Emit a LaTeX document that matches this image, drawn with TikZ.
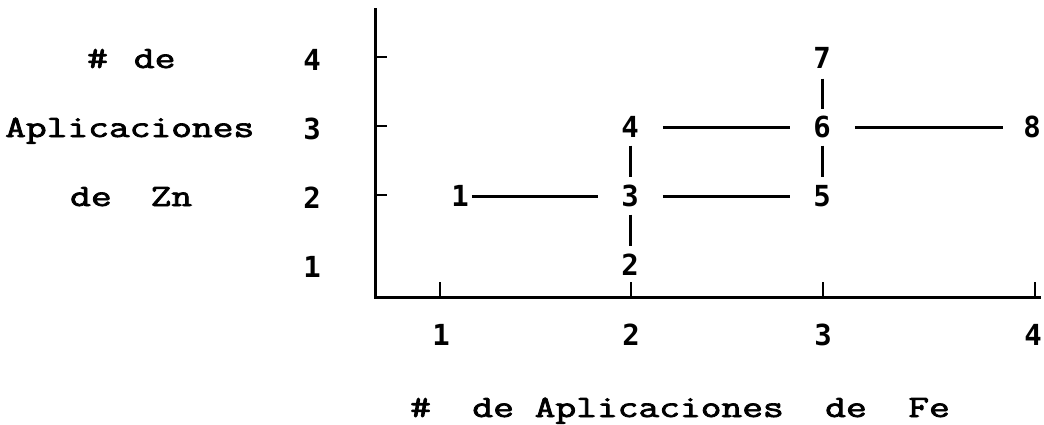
\documentclass[tikz,border=0pt]{standalone}
\usepackage{fontspec}
\usepackage{graphicx}
\newfontfamily\dig{DejaVu Sans Mono}
\newfontfamily\cmono{Latin Modern Mono}[FakeBold=2.2]
\newcommand{\wtxt}[1]{\scalebox{1.3}[1]{#1}}
\begin{document}
\begin{tikzpicture}[x=1pt,y=-1pt,
  lbl/.style={font=\cmono\fontsize{31}{36}\selectfont, inner sep=0pt, anchor=base west},
  num/.style={font=\dig\bfseries\fontsize{29}{32}\selectfont, inner sep=0pt, text height=21pt, text depth=0pt},
  ax/.style={line width=3pt},
  tk/.style={line width=2.2pt},
  ln/.style={line width=3pt},
  hgap/.style={shorten <=24pt, shorten >=23pt},
  vgap/.style={shorten <=8pt, shorten >=8pt}]
\useasboundingbox (0,0) rectangle (1044,424);
% axes
\coordinate (Ytop) at (375,8);
\coordinate (O) at (375,297);
\coordinate (Xend) at (1041,297);
\draw[ax] (Ytop) -- (O) -- (Xend);
% y ticks
\draw[tk] (375,57) -- (387,57);
\draw[tk] (375,126) -- (387,126);
\draw[tk] (375,195) -- (387,195);
% x ticks
\draw[tk] (440,297) -- (440,282);
\draw[tk] (631,297) -- (631,282);
\draw[tk] (823,297) -- (823,282);
\draw[tk] (1035,297) -- (1035,282);
% y tick labels
\node[num] (y4) at (312,60) {4};
\node[num] (y3) at (312,129) {3};
\node[num] (y2) at (312,198) {2};
\node[num] (y1) at (312,267) {1};
% x tick labels
\node[num] (x1) at (441,335) {1};
\node[num] (x2) at (631,335) {2};
\node[num] (x3) at (823,335) {3};
\node[num] (x4) at (1033,335) {4};
% axis titles
\node[lbl] (t1) at (87,68) {\wtxt{\#\hspace*{20pt}de}};
\node[lbl] (t2) at (5,137) {\wtxt{Aplicaciones}};
\node[lbl] (t3) at (70,206) {\wtxt{de\hspace*{30pt}Zn}};
\node[lbl] (tx) at (410,417) {\wtxt{\#~~de Aplicaciones~~de~~Fe}};
% points
\node[num] (n1) at (460,196) {1};
\node[num] (n2) at (630,265) {2};
\node[num] (n3) at (630,196) {3};
\node[num] (n4) at (630,127) {4};
\node[num] (n5) at (822,196) {5};
\node[num] (n6) at (822,127) {6};
\node[num] (n7) at (822,58) {7};
\node[num] (n8) at (1032,127) {8};
% connectors
\draw[ln, shorten <=3pt, shorten >=23pt] (n1) -- (n3);
\draw[ln, hgap] (n3) -- (n5);
\draw[ln, hgap] (n4) -- (n6);
\draw[ln, shorten <=24pt, shorten >=20pt] (n6) -- (n8);
\draw[ln, vgap] (n4) -- (n3);
\draw[ln, vgap] (n3) -- (n2);
\draw[ln, shorten <=10pt, shorten >=7pt] (n7) -- (n6);
\draw[ln, vgap] (n6) -- (n5);
\end{tikzpicture}
\end{document}
